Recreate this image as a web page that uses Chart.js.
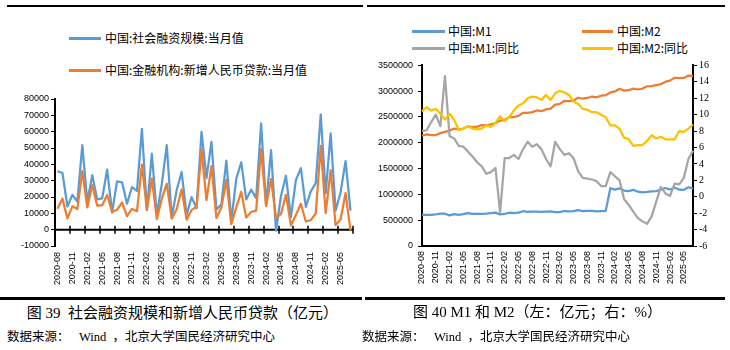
<!DOCTYPE html>
<html>
<head>
<meta charset="utf-8">
<script src="https://cdn.jsdelivr.net/npm/chart.js@4.4.1/dist/chart.umd.min.js"></script>
<style>
  body { margin:0; width:730px; height:350px; background:#fff; position:relative; overflow:hidden; font-family:"Noto Sans CJK SC", sans-serif; color:#000; }
  canvas { position:absolute; }
  .rule { position:absolute; background:#000; }
  .line { position:absolute; height:2.5px; }
  .leg { position:absolute; font-size:12px; line-height:16px; white-space:nowrap; }
  .cap { position:absolute; font-family:"Liberation Serif","Noto Sans CJK SC",serif; font-size:15px; line-height:20px; text-align:center; white-space:nowrap; }
  .src { position:absolute; font-family:"Liberation Serif","Noto Sans CJK SC",serif; font-size:12.5px; line-height:16px; white-space:nowrap; }
</style>
</head>
<body>
<div class="rule" style="left:7px;top:5px;width:356px;height:2px"></div>
<div class="rule" style="left:367px;top:5px;width:358px;height:2px"></div>

<!-- legend, left chart -->
<div class="line" style="left:69px;top:37px;width:32px;background:#5B9BD5"></div>
<div class="leg" style="left:105px;top:30px">中国:社会融资规模:当月值</div>
<div class="line" style="left:69px;top:69px;width:32px;background:#ED7D31"></div>
<div class="leg" style="left:105px;top:62px">中国:金融机构:新增人民币贷款:当月值</div>

<!-- legend, right chart -->
<div class="line" style="left:412px;top:30px;width:33px;background:#5B9BD5"></div>
<div class="leg" style="left:448px;top:23px">中国:M1</div>
<div class="line" style="left:582px;top:30px;width:31px;background:#ED7D31"></div>
<div class="leg" style="left:617px;top:23px">中国:M2</div>
<div class="line" style="left:412px;top:47px;width:33px;background:#A5A5A5"></div>
<div class="leg" style="left:448px;top:40px">中国:M1:同比</div>
<div class="line" style="left:582px;top:47px;width:31px;background:#FFC000"></div>
<div class="leg" style="left:617px;top:40px">中国:M2:同比</div>

<canvas id="c1" width="365" height="201" style="left:0;top:90px"></canvas>
<canvas id="c2" width="365" height="245" style="left:365px;top:55px"></canvas>

<div class="rule" style="left:0;top:297px;width:362px;height:3px"></div>
<div class="rule" style="left:365px;top:297px;width:360px;height:3px"></div>
<div class="cap" style="left:0;top:303px;width:365px">图 39&nbsp; 社会融资规模和新增人民币贷款（亿元）</div>
<div class="cap" style="left:365px;top:302px;width:345px">图 40 M1 和 M2（左：亿元；右：%）</div>
<div class="src" style="left:7px;top:329px">数据来源：&nbsp;&nbsp; Wind &nbsp;，北京大学国民经济研究中心</div>
<div class="src" style="left:362px;top:329px">数据来源：&nbsp;&nbsp; Wind &nbsp;，北京大学国民经济研究中心</div>

<script>
// months on both x axes
const months = [
  "2020-08","2020-09","2020-10","2020-11","2020-12",
  "2021-01","2021-02","2021-03","2021-04","2021-05","2021-06","2021-07","2021-08","2021-09","2021-10","2021-11","2021-12",
  "2022-01","2022-02","2022-03","2022-04","2022-05","2022-06","2022-07","2022-08","2022-09","2022-10","2022-11","2022-12",
  "2023-01","2023-02","2023-03","2023-04","2023-05","2023-06","2023-07","2023-08","2023-09","2023-10","2023-11","2023-12",
  "2024-01","2024-02","2024-03","2024-04","2024-05","2024-06","2024-07","2024-08","2024-09","2024-10","2024-11","2024-12",
  "2025-01","2025-02","2025-03","2025-04","2025-05","2025-06","2025-07"
];

// left chart (亿元)
const tsf = [
  35800, 34700, 14200, 21300, 17200,
  51700, 17100, 33400, 18500, 19200, 36700, 10600, 29600, 29000, 15900, 26100, 23700,
  61700, 11900, 46500, 9102, 27900, 51700, 7561, 24300, 35300, 9079, 19900, 13100,
  59800, 31600, 53800, 12200, 15600, 42200, 5282, 31200, 41300, 18500, 24500, 19300,
  65000, 15000, 48700, -658, 20600, 33000, 7708, 30300, 37600, 14000, 23400, 28500,
  70600, 22300, 58900, 11600, 22900, 42000, 11600
];
const loans = [
  12800, 19000, 6898, 14300, 12600,
  35800, 13600, 27300, 14700, 15000, 21200, 10800, 12200, 16600, 8262, 12700, 11300,
  39800, 12300, 31300, 6454, 18900, 28100, 6790, 12500, 24700, 6152, 12100, 14000,
  49000, 18100, 38900, 7188, 13600, 30500, 3459, 13600, 23100, 7384, 10900, 11700,
  49200, 14500, 30900, 7300, 9500, 21300, 2600, 9000, 15900, 5000, 5800, 9900,
  51300, 10100, 36400, 2800, 6200, 22400, -500
];

// right chart: levels (亿元) and yoy (%)
const m1 = [
  601300, 602400, 605000, 610600, 625600,
  625600, 593600, 616100, 605400, 617100, 637500, 622600, 624000, 624500, 626100, 637400, 647400,
  612000, 621400, 645100, 636800, 645900, 674400, 661800, 664500, 664500, 662100, 668000, 671700,
  655200, 657900, 678100, 669400, 675300, 695600, 677800, 680000, 678400, 671900, 677400, 680600,
  1120000, 1093000, 1117000, 1075000, 1065000, 1089000, 1052000, 1040000, 1047000, 1059000, 1065000, 1090000,
  1124500, 1094000, 1134900, 1091400, 1089100, 1139500, 1110600
];
const m2 = [
  2136800, 2164100, 2149700, 2151000, 2186800,
  2213000, 2236000, 2276500, 2262100, 2275500, 2317800, 2302200, 2312200, 2342800, 2336200, 2356000, 2382900,
  2431000, 2441500, 2497700, 2499700, 2521500, 2581500, 2578100, 2595100, 2626600, 2612100, 2647000, 2664300,
  2738100, 2755200, 2814600, 2808500, 2820500, 2873000, 2854000, 2868900, 2896700, 2882300, 2912500, 2922700,
  2976200, 2995600, 3048000, 3011900, 3018500, 3050200, 3033100, 3050500, 3094800, 3097100, 3119600, 3135300,
  3185200, 3205200, 3260600, 3251700, 3257800, 3302900, 3299400
];
const m1Yoy = [
  8.0, 8.1, 9.1, 10.0, 8.6,
  14.7, 7.4, 7.1, 6.2, 6.1, 5.5, 4.9, 4.2, 3.7, 2.8, 3.0, 3.5,
  -1.9, 4.7, 4.7, 5.1, 4.6, 5.8, 6.7, 6.1, 6.4, 5.8, 4.6, 3.7,
  6.7, 5.8, 5.1, 5.3, 4.7, 3.1, 2.3, 2.2, 2.1, 1.9, 1.3, 1.3,
  3.0, 2.5, 2.0, -0.3, -1.0, -1.8, -2.6, -3.0, -3.3, -2.4, -0.6, 1.2,
  0.4, 0.1, 1.6, 1.5, 2.3, 4.6, 5.6
];
const m2Yoy = [
  10.4, 10.9, 10.5, 10.7, 10.1,
  9.4, 10.1, 9.4, 8.1, 8.3, 8.6, 8.3, 8.2, 8.3, 8.7, 8.5, 9.0,
  9.8, 9.2, 9.7, 10.5, 11.1, 11.4, 12.0, 12.2, 12.1, 11.8, 12.4, 11.8,
  12.6, 12.9, 12.7, 12.4, 11.6, 11.3, 10.7, 10.6, 10.3, 10.3, 10.0, 9.7,
  8.7, 8.7, 8.3, 7.2, 7.0, 6.2, 6.3, 6.3, 6.8, 7.5, 7.1, 7.3,
  7.0, 7.0, 7.0, 8.0, 7.9, 8.3, 8.8
];

Chart.defaults.font.family = "'Liberation Sans', Arial, sans-serif";
Chart.defaults.font.size = 9;
Chart.defaults.color = '#000';

function every3(v, i) {
  return i % 3 === 0 ? months[i] : null;
}

// plain numbers, no thousands separator
function plain(v) {
  return String(v);
}

function line(data, color, order, axis) {
  return {
    data: data, borderColor: color, backgroundColor: color, borderWidth: 2.25,
    pointRadius: 0, tension: 0, borderJoinStyle: 'round', order: order, yAxisID: axis || 'y'
  };
}

// black x axis drawn at y = 0 with a tick every three months
const zeroAxis = {
  id: 'zeroAxis',
  beforeDatasetsDraw(chart) {
    const {ctx, chartArea, scales: {x, y}} = chart;
    const y0 = y.getPixelForValue(0);
    const half = (x.getPixelForValue(1) - x.getPixelForValue(0)) / 2;
    ctx.save();
    ctx.strokeStyle = '#000';
    ctx.lineWidth = 2;
    ctx.beginPath();
    ctx.moveTo(chartArea.left, y0);
    ctx.lineTo(chartArea.right, y0);
    ctx.stroke();
    ctx.lineWidth = 1.5;
    ctx.beginPath();
    for (let i = 0; i <= months.length; i += 3) {
      const px = Math.round(x.getPixelForValue(i) - half);
      ctx.moveTo(px, y0 - 4);
      ctx.lineTo(px, y0 + 4);
    }
    ctx.stroke();
    ctx.restore();
  }
};

new Chart(document.getElementById('c1'), {
  type: 'line',
  data: {
    labels: months,
    datasets: [
      line(tsf, '#5B9BD5', 2),
      line(loans, '#ED7D31', 1)
    ]
  },
  options: {
    responsive: false, animation: false, devicePixelRatio: 1,
    layout: { padding: { top: 9, right: 12, left: 0, bottom: 0 } },
    plugins: { legend: { display: false }, tooltip: { enabled: false } },
    scales: {
      x: {
        offset: true,
        grid: { display: false, drawTicks: false },
        border: { display: false },
        ticks: { autoSkip: false, minRotation: 90, maxRotation: 90, padding: 6, callback: every3 },
        afterFit(s) { s.height = 45; }
      },
      y: {
        min: -10000, max: 80000,
        ticks: { stepSize: 10000, padding: 2, callback: plain },
        grid: { drawOnChartArea: false, color: '#000', tickLength: 4 },
        border: { color: '#000', width: 2 },
        afterFit(s) { s.width = 55; }
      }
    }
  },
  plugins: [zeroAxis]
});

new Chart(document.getElementById('c2'), {
  type: 'line',
  data: {
    labels: months,
    datasets: [
      line(m1, '#5B9BD5', 4, 'y'),
      line(m2, '#ED7D31', 3, 'y'),
      line(m1Yoy, '#A5A5A5', 2, 'y1'),
      line(m2Yoy, '#FFC000', 1, 'y1')
    ]
  },
  options: {
    responsive: false, animation: false, devicePixelRatio: 1,
    layout: { padding: { top: 10, right: 0, left: 0, bottom: 0 } },
    plugins: { legend: { display: false }, tooltip: { enabled: false } },
    scales: {
      x: {
        offset: false,
        grid: { drawOnChartArea: false, drawTicks: false },
        border: { color: '#000', width: 2 },
        ticks: { autoSkip: false, minRotation: 90, maxRotation: 90, padding: 5, callback: every3 },
        afterFit(s) { s.height = 54; }
      },
      y: {
        position: 'left',
        min: 0, max: 3500000,
        ticks: { stepSize: 500000, padding: 5, callback: plain },
        grid: { drawOnChartArea: false, color: '#000', tickLength: 4 },
        border: { color: '#000', width: 2 },
        afterFit(s) { s.width = 57; }
      },
      y1: {
        position: 'right',
        min: -6, max: 16,
        ticks: { stepSize: 2, padding: 2, callback: plain, font: { family: "'Liberation Serif', serif", size: 10 } },
        grid: { drawOnChartArea: false, color: '#000', tickLength: 4 },
        border: { color: '#000', width: 2 },
        afterFit(s) { s.width = 37; }
      }
    }
  }
});
</script>
</body>
</html>
